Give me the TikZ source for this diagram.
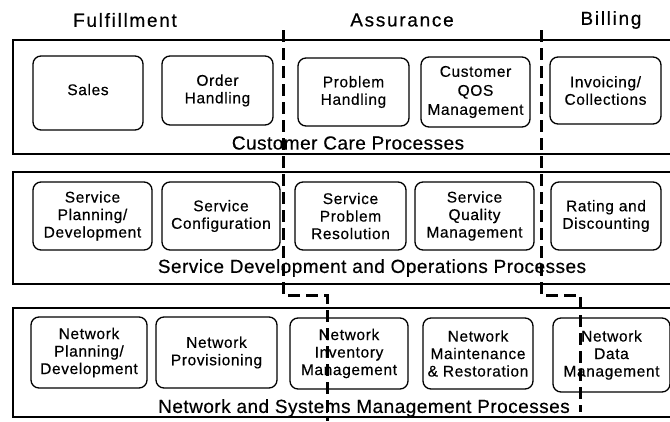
\documentclass[tikz,border=0pt]{standalone}
\usepackage{fontspec}
\setmainfont{Liberation Sans}
\newfontfamily\boxfont[LetterSpace=4,FakeBold=0.4]{Liberation Sans}
\newfontfamily\titlefont[LetterSpace=2.5,FakeBold=0.4]{Liberation Sans}
\newfontfamily\headfont[LetterSpace=9,FakeBold=0.4]{Liberation Sans}
\begin{document}
\begin{tikzpicture}[x=1pt,y=-1pt,
  band/.style={line width=1.8pt},
  proc/.style={draw,line width=1.3pt,rounded corners=8pt,align=center,inner sep=0pt,
    font=\boxfont\fontsize{15.5}{17.5}\selectfont},
  bandtitle/.style={font=\titlefont\fontsize{19}{21}\selectfont,inner sep=0pt},
  heading/.style={font=\headfont\fontsize{19}{21}\selectfont,inner sep=0pt},
  divider/.style={line width=3pt,dash pattern=on 12pt off 6pt}]
\useasboundingbox (0,0) rectangle (670,421);
% headings
\node[heading] (hf) at (125,20) {Fulfillment};
\node[heading] (ha) at (402,20) {Assurance};
\node[heading] (hb) at (611,20) {Billing};
% bands
\draw[band] (670,40) -- (13,40) -- (13,154) -- (670,154);
\draw[band] (670,172) -- (13,172) -- (13,284) -- (670,284);
\draw[band] (670,308) -- (13,308) -- (13,417) -- (670,417);
% row 1
\node[proc,minimum width=110pt,minimum height=74pt] (sales) at (88,93) {\raisebox{7pt}{Sales}};
\node[proc,minimum width=111pt,minimum height=69pt] (order) at (217.5,90.5) {Order\\Handling};
\node[proc,minimum width=111pt,minimum height=68pt] (problem) at (353.5,92) {Problem\\Handling};
\node[proc,minimum width=109pt,minimum height=70pt,font=\boxfont\fontsize{15.5}{19}\selectfont] (cqos) at (475.5,92) {Customer\\QOS\\Management};
\node[proc,minimum width=111pt,minimum height=67pt] (invoice) at (605.5,90.5) {Invoicing/\\Collections};
\node[bandtitle] (t1) at (348,143) {Customer Care Processes};
% row 2
\node[proc,minimum width=119pt,minimum height=68pt] (splan) at (92.5,216) {Service\\Planning/\\Development};
\node[proc,minimum width=118pt,minimum height=68pt] (sconf) at (221,216) {Service\\Configuration};
\node[proc,minimum width=111pt,minimum height=68pt] (sprob) at (350.5,216) {Service\\Problem\\Resolution};
\node[proc,minimum width=119pt,minimum height=68pt] (squal) at (474.5,216) {Service\\Quality\\Management};
\node[proc,minimum width=110pt,minimum height=68pt] (rating) at (606,216) {Rating and\\Discounting};
\node[bandtitle] (t2) at (372,268) {Service Development and Operations Processes};
% row 3
\node[proc,minimum width=116pt,minimum height=71pt] (nplan) at (89,352.5) {Network\\Planning/\\Development};
\node[proc,minimum width=121pt,minimum height=71pt] (nprov) at (216.5,352.5) {Network\\Provisioning};
\node[proc,minimum width=118pt,minimum height=71pt] (ninv) at (349,353.5) {Network\\Inventory\\Management};
\node[proc,minimum width=110pt,minimum height=71pt] (nmaint) at (478,353.5) {Network\\Maintenance\\\& Restoration};
\node[proc,minimum width=117pt,minimum height=74pt] (ndata) at (611.5,355) {Network\\Data\\Management};
\node[bandtitle] (t3) at (364,408) {Network and Systems Management Processes};
% dividers
\draw[divider] (283,30) -- (283,295) -- (327,295) -- (327,421);
\draw[divider] (541,30) -- (541,295) -- (580,295) -- (580,412);
\end{tikzpicture}
\end{document}
